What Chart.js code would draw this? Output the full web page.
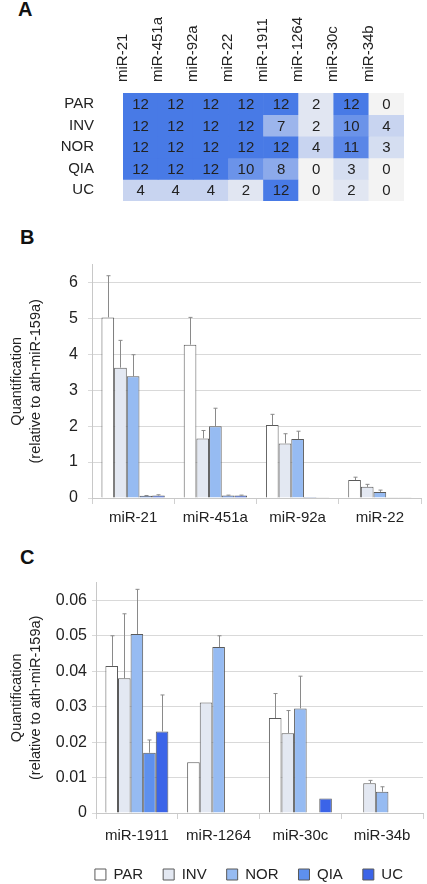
<!DOCTYPE html>
<html>
<head>
<meta charset="utf-8">
<script src="https://cdn.jsdelivr.net/npm/chart.js@4/dist/chart.umd.min.js"></script>
<style>
  body { margin: 0; width: 427px; height: 884px; background: #fff; position: relative; overflow: hidden; font-family: "Liberation Sans", Arial, sans-serif; }
  .letra { position: absolute; font-weight: bold; font-size: 20px; line-height: 20px; color: #111; }
  canvas { position: absolute; left: 0; }
</style>
</head>
<body>
<div class="letra" style="left:18px;top:-1px">A</div>
<div class="letra" style="left:20px;top:227px">B</div>
<div class="letra" style="left:20px;top:547px">C</div>
<canvas id="graficoA" width="427" height="210" style="top:0"></canvas>
<canvas id="graficoB" width="427" height="285" style="top:245px"></canvas>
<canvas id="graficoC" width="427" height="324" style="top:568px"></canvas>
<script>
// panel A: number of positive samples per group
const columnasA = ["miR-21", "miR-451a", "miR-92a", "miR-22", "miR-1911", "miR-1264", "miR-30c", "miR-34b"];
const filasA = ["PAR", "INV", "NOR", "QIA", "UC"];
const celdasPAR = [12, 12, 12, 12, 12, 2, 12, 0];
const celdasINV = [12, 12, 12, 12, 7, 2, 10, 4];
const celdasNOR = [12, 12, 12, 12, 12, 4, 11, 3];
const celdasQIA = [12, 12, 12, 10, 8, 0, 3, 0];
const celdasUC = [4, 4, 4, 2, 12, 0, 2, 0];
const celdasMax = 12;

// panel B
const categoriasB = ["miR-21", "miR-451a", "miR-92a", "miR-22"];
const parB = [5.03, 4.27, 2.03, 0.5];
const invB = [3.63, 1.66, 1.52, 0.31];
const norB = [3.39, 2.0, 1.64, 0.17];
const qiaB = [0.06, 0.07, 0.03, 0.01];
const ucB = [0.07, 0.07, 0.02, 0.01];
const errParB = [1.16, 0.76, 0.3, 0.08];
const errInvB = [0.76, 0.22, 0.27, 0.07];
const errNorB = [0.6, 0.5, 0.22, 0.05];
const errQiaB = [0.01, 0.01, 0, 0];
const errUcB = [0.02, 0.01, 0, 0];
const ticksB = [0, 1, 2, 3, 4, 5, 6];

// panel C
const categoriasC = ["miR-1911", "miR-1264", "miR-30c", "miR-34b"];
const parC = [0.0415, 0.0143, 0.0268, 0];
const invC = [0.038, 0.0312, 0.0225, 0.0084];
const norC = [0.0505, 0.0468, 0.0295, 0.006];
const qiaC = [0.017, 0, 0, 0];
const ucC = [0.023, 0, 0.0041, 0];
const errParC = [0.0085, 0, 0.0069, 0];
const errInvC = [0.0182, 0, 0.0064, 0.0008];
const errNorC = [0.0126, 0.0032, 0.0091, 0.0014];
const errQiaC = [0.0036, 0, 0, 0];
const errUcC = [0.0103, 0, 0, 0];
const ticksC = [0, 0.01, 0.02, 0.03, 0.04, 0.05, 0.06];

const grupos = ["PAR", "INV", "NOR", "QIA", "UC"];
const coloresGrupos = ["#ffffff", "#e3e8f2", "#96bbf2", "#5e90ee", "#3b64e8"];

Chart.defaults.font.family = '"Liberation Sans", Arial, sans-serif';
Chart.defaults.color = "#222";
Chart.defaults.animation = false;

function colorCelda(v) {
  const t = Math.pow(v / celdasMax, 1.25);
  const a = [243, 243, 243], b = [72, 122, 230];
  const c = a.map((x, k) => Math.round(x + (b[k] - x) * t));
  return `rgb(${c[0]}, ${c[1]}, ${c[2]})`;
}

const numerosCeldas = {
  id: "numerosCeldas",
  afterDatasetsDraw(chart) {
    const ctx = chart.ctx;
    ctx.save();
    ctx.font = '15px "Liberation Sans", Arial, sans-serif';
    ctx.fillStyle = "#222";
    ctx.textAlign = "center";
    ctx.textBaseline = "middle";
    chart.data.datasets.forEach((ds, i) => {
      chart.getDatasetMeta(i).data.forEach((celda, j) => {
        const { x, y, base } = celda.getProps(["x", "y", "base"], true);
        ctx.fillText(String(ds.valores[j]), x, (y + base) / 2 + 1);
      });
    });
    ctx.restore();
  },
};

const barrasError = {
  id: "barrasError",
  afterDatasetsDraw(chart) {
    const ctx = chart.ctx;
    const escalaY = chart.scales.y;
    ctx.save();
    ctx.strokeStyle = "#8a8a8a";
    ctx.lineWidth = 1;
    chart.data.datasets.forEach((ds, i) => {
      chart.getDatasetMeta(i).data.forEach((barra, j) => {
        const e = ds.errores[j];
        if (!e) return;
        const x = Math.round(barra.x) + 0.5;
        const arriba = escalaY.getPixelForValue(ds.data[j] + e);
        ctx.beginPath();
        ctx.moveTo(x, barra.y);
        ctx.lineTo(x, arriba);
        ctx.moveTo(x - 2, arriba);
        ctx.lineTo(x + 2, arriba);
        ctx.stroke();
      });
    });
    ctx.restore();
  },
};

// A: heatmap with floating bars, one dataset per row
const filasValores = [celdasPAR, celdasINV, celdasNOR, celdasQIA, celdasUC];

new Chart(document.getElementById("graficoA"), {
  type: "bar",
  data: {
    labels: columnasA,
    datasets: filasA.map((fila, i) => ({
      label: fila,
      data: columnasA.map(() => [i, i + 1]),
      valores: filasValores[i],
      backgroundColor: filasValores[i].map(colorCelda),
      borderWidth: 0,
      grouped: false,
      barPercentage: 1,
      categoryPercentage: 1,
    })),
  },
  options: {
    responsive: false,
    layout: { padding: { left: 0, right: 23, top: 0, bottom: 0 } },
    plugins: { legend: { display: false }, tooltip: { enabled: false } },
    scales: {
      x: {
        position: "top",
        grid: { display: false, drawTicks: false },
        border: { display: false },
        ticks: { minRotation: 90, maxRotation: 90, autoSkip: false, padding: 11, font: { size: 15 } },
        afterFit: (s) => { s.height = 93; },
      },
      y: {
        min: 0,
        max: 5,
        reverse: true,
        grid: { display: true, drawOnChartArea: false, drawTicks: true, tickLength: 29, tickColor: "rgba(0,0,0,0)" },
        border: { display: false },
        afterBuildTicks: (s) => { s.ticks = filasA.map((f, i) => ({ value: i + 0.5 })); },
        ticks: { callback: (v) => filasA[Math.floor(v)], autoSkip: false, padding: 0, font: { size: 15 } },
        afterFit: (s) => { s.width = 123; },
      },
    },
  },
  plugins: [numerosCeldas],
});

function graficoBarras(id, categorias, series, errores, ticks, max, formato, conLeyenda, medidas) {
  return new Chart(document.getElementById(id), {
    type: "bar",
    data: {
      labels: categorias,
      datasets: grupos.map((g, i) => ({
        label: g,
        data: series[i],
        errores: errores[i],
        backgroundColor: coloresGrupos[i],
        borderColor: "#5a5a5a",
        borderWidth: 1,
        barPercentage: 1,
        categoryPercentage: 0.77,
      })),
    },
    options: {
      responsive: false,
      layout: { padding: { left: 0, right: medidas.derecha, top: 0, bottom: 0 } },
      plugins: {
        tooltip: { enabled: false },
        legend: {
          display: conLeyenda,
          position: "bottom",
          align: "end",
          labels: { boxWidth: 11, boxHeight: 11, padding: 20, font: { size: 15 }, color: "#222" },
        },
      },
      scales: {
        x: {
          grid: { drawOnChartArea: false, tickLength: 6, color: "#d0d0d0" },
          border: { color: "#c8c8c8" },
          ticks: { padding: medidas.padX, font: { size: 15 } },
          afterFit: (s) => { s.height = medidas.ejeX; },
        },
        y: {
          min: 0,
          max: max,
          afterBuildTicks: (s) => { s.ticks = ticks.map((v) => ({ value: v })); },
          grid: { color: "#d9d9d9", tickLength: 4 },
          border: { color: "#c8c8c8" },
          ticks: { padding: medidas.padY, font: { size: 16 }, callback: formato },
          title: {
            display: true,
            text: ["Quantification", "(relative to ath-miR-159a)"],
            font: { size: 14.5, lineHeight: 1.3 },
            padding: { top: 7.5, bottom: 0 },
          },
          afterFit: (s) => { s.width = medidas.ejeY; },
        },
      },
    },
    plugins: [barrasError],
  });
}

graficoBarras(
  "graficoB", categoriasB,
  [parB, invB, norB, qiaB, ucB],
  [errParB, errInvB, errNorB, errQiaB, errUcB],
  ticksB, 6.5, (v) => String(v), false,
  { derecha: 6, ejeX: 32, ejeY: 92, padX: 5, padY: 10 }
);

graficoBarras(
  "graficoC", categoriasC,
  [parC, invC, norC, qiaC, ucC],
  [errParC, errInvC, errNorC, errQiaC, errUcC],
  ticksC, 0.065, (v) => (v === 0 ? "0" : v.toFixed(2)), true,
  { derecha: 4, ejeX: 34, ejeY: 96, padX: 8, padY: 5 }
);
</script>
</body>
</html>
